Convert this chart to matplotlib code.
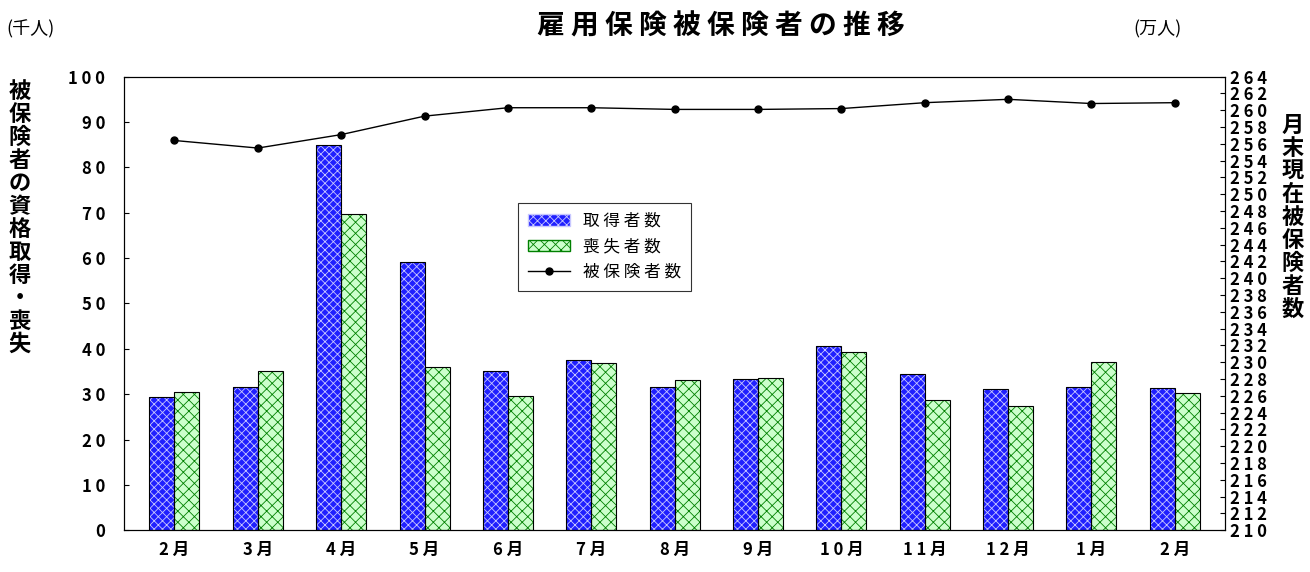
import matplotlib
matplotlib.use("Agg")
import matplotlib.pyplot as plt
import numpy as np

plt.rcParams['font.family'] = ['Noto Sans CJK JP', 'DejaVu Sans']
plt.rcParams['hatch.linewidth'] = 0.6

months = ['2月', '3月', '4月', '5月', '6月', '7月', '8月', '9月', '10月', '11月', '12月', '1月', '2月']
shutoku = [29.4, 31.6, 85.0, 59.2, 35.1, 37.5, 31.6, 33.3, 40.6, 34.4, 31.1, 31.6, 31.3]
soshitsu = [30.5, 35.1, 69.8, 36.0, 29.6, 36.9, 33.1, 33.5, 39.3, 28.7, 27.4, 37.1, 30.2]
hihoken = [256.4, 255.5, 257.1, 259.3, 260.3, 260.3, 260.1, 260.1, 260.2, 260.9, 261.3, 260.8, 260.9]

fig = plt.figure(figsize=(13.1, 5.72), dpi=100)
ax = fig.add_axes([0.095, 0.073, 0.84, 0.793])
x = np.arange(len(months))
w = 0.3
# 塗り + ハッチ（ハッチ色は edgecolor）
ax.bar(x - w / 2, shutoku, w, color='#2020ff', edgecolor='#c8c8ff', hatch='xxxx', linewidth=0)
ax.bar(x + w / 2, soshitsu, w, color='#ccffcc', edgecolor='#008000', hatch='xxx', linewidth=0)
# 枠線
b1 = ax.bar(x - w / 2, shutoku, w, fill=False, edgecolor='black', linewidth=0.8)
b2 = ax.bar(x + w / 2, soshitsu, w, fill=False, edgecolor='black', linewidth=0.8)
ax.set_ylim(0, 100)
ax.set_xlim(-0.6, len(months) - 0.4)
ax.set_yticks(range(0, 101, 10))
ax.set_xticks(x)
ax.set_xticklabels([' '.join(m) for m in months], fontweight='bold', fontsize=12)
ax.tick_params(axis='y', labelsize=12, direction='in', pad=14)
ax.tick_params(axis='x', length=0, pad=8)
ax.set_yticklabels([' '.join(str(v)) for v in range(0, 101, 10)], fontweight='bold')

ax2 = ax.twinx()
l, = ax2.plot(x, hihoken, color='black', marker='o', markersize=5, linewidth=1)
ax2.set_ylim(210, 264)
ax2.set_yticks(range(210, 265, 2))
ax2.set_yticklabels([' '.join(str(v)) for v in range(210, 265, 2)], fontweight='bold', fontsize=12)
ax2.tick_params(axis='y', direction='in', pad=4)

from matplotlib.patches import Patch
h1 = Patch(facecolor='#2020ff', edgecolor='#c8c8ff', hatch='xxxx')
h2 = Patch(facecolor='#ccffcc', edgecolor='#008000', hatch='xxx')
leg = ax.legend(handles=[h1, h2, l], labels=['取 得 者 数', '喪 失 者 数', '被 保 険 者 数'],
                loc='upper left', bbox_to_anchor=(0.35, 0.74), fancybox=False, edgecolor='black',
                fontsize=12, handlelength=2.5, borderpad=0.6)
leg.get_frame().set_linewidth(0.8)

fig.text(0.55, 0.94, '雇 用 保 険 被 保 険 者 の 推 移', ha='center', fontsize=20, fontweight='bold')
fig.text(0.005, 0.94, '(千人)', fontsize=13)
fig.text(0.865, 0.94, '(万人)', fontsize=13)
fig.text(0.015, 0.86, '\n'.join('被保険者の資格取得・喪失'), ha='center', va='top', fontsize=16, fontweight='bold', linespacing=1.0)
fig.text(0.987, 0.62, '\n'.join('月末現在被保険者数'), ha='center', va='center', fontsize=16, fontweight='bold', linespacing=1.0)

fig.savefig('out.png')
